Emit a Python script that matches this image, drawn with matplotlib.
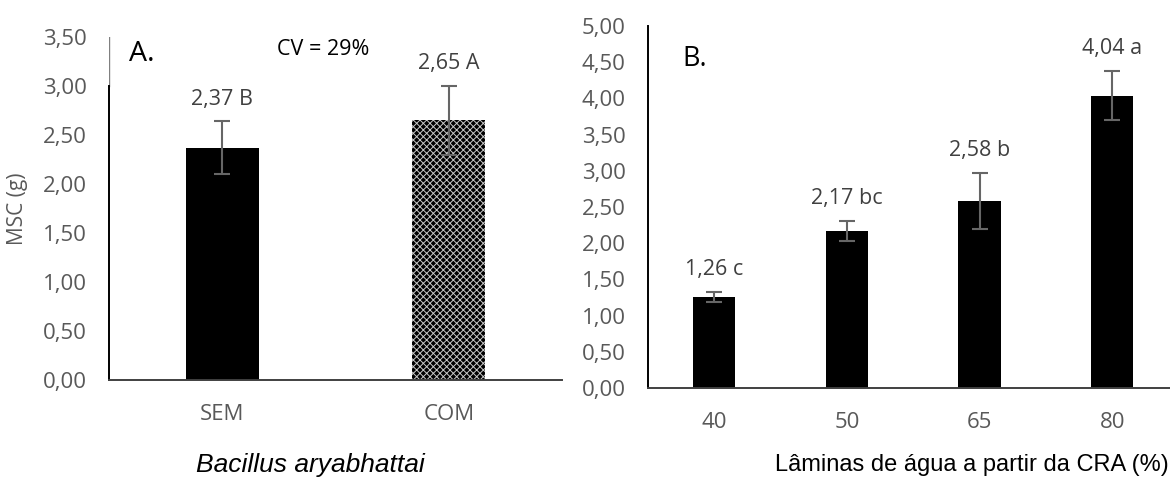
import matplotlib.pyplot as plt

# ==========================================================
# Data
# ==========================================================

inoc_labels = ["SEM", "COM"]
inoc_values = [2.37, 2.65]
inoc_errors = [0.27, 0.35]
inoc_letters = ["B", "A"]

lamina_labels = ["40", "50", "65", "80"]
lamina_values = [1.26, 2.17, 2.58, 4.04]
lamina_errors = [0.07, 0.14, 0.39, 0.34]
lamina_letters = ["c", "bc", "b", "a"]

# ==========================================================
# Style
# ==========================================================

plt.rcParams["font.family"] = ["Open Sans", "DejaVu Sans"]
plt.rcParams["hatch.linewidth"] = 0.7

TICK_GRAY = "#595959"
ERR_GRAY = "#666666"


def fmt(v):
    return f"{v:.2f}".replace(".", ",")


def style_axis(ax, ymax):
    ax.set_ylim(0, ymax)
    ticks = [i * 0.5 for i in range(int(ymax / 0.5) + 1)]
    ax.set_yticks(ticks)
    ax.set_yticklabels([fmt(t) for t in ticks])
    for side in ["top", "right"]:
        ax.spines[side].set_visible(False)
    ax.spines["bottom"].set_color("#404040")
    ax.spines["bottom"].set_linewidth(1.4)
    ax.spines["left"].set_color("black")
    ax.spines["left"].set_linewidth(1.4)
    ax.tick_params(axis="both", length=0, labelsize=16, labelcolor=TICK_GRAY)
    ax.tick_params(axis="y", pad=16)
    ax.tick_params(axis="x", pad=17)


def add_labels(ax, values, errors, letters):
    for i, (v, e, l) in enumerate(zip(values, errors, letters)):
        ax.annotate(f"{fmt(v)} {l}", (i, v + e), xytext=(0, 16),
                    textcoords="offset points", ha="center", va="center",
                    fontsize=15.5, color="#404040")


fig = plt.figure(figsize=(11.7, 4.91), dpi=100)

# ==========================================================
# Panel A
# ==========================================================

ax1 = fig.add_axes([0.0932, 0.2261, 0.3871, 0.6985])
x1 = list(range(len(inoc_labels)))

ax1.bar(x1[0], inoc_values[0], width=0.32, color="black")
ax1.bar(x1[1], inoc_values[1], width=0.32, color="black",
        edgecolor="#c8c8c8", hatch="xxxxx", linewidth=0)
ax1.errorbar(x1, inoc_values, yerr=inoc_errors, fmt="none",
             ecolor=ERR_GRAY, elinewidth=1.5, capsize=6, capthick=1.5)

ax1.set_xlim(-0.5, 1.5)
ax1.set_xticks(x1)
ax1.set_xticklabels(inoc_labels)
style_axis(ax1, 3.5)
ax1.spines["left"].set_bounds(0, 3.0)
ax1.axvline(-0.5, ymin=3.0 / 3.5, ymax=1, color="#808080", linewidth=1)

add_labels(ax1, inoc_values, inoc_errors, inoc_letters)

ax1.text(0.045, 0.95, "A.", transform=ax1.transAxes, fontsize=20.5,
         ha="left", va="center")
ax1.text(0.37, 0.965, "CV = 29%", transform=ax1.transAxes, fontsize=15.5,
         ha="left", va="center")

# ==========================================================
# Panel B
# ==========================================================

ax2 = fig.add_axes([0.5538, 0.2098, 0.4462, 0.7372])
x2 = list(range(len(lamina_labels)))

ax2.bar(x2, lamina_values, width=0.32, color="black")
ax2.errorbar(x2, lamina_values, yerr=lamina_errors, fmt="none",
             ecolor=ERR_GRAY, elinewidth=1.5, capsize=6, capthick=1.5)

ax2.set_xlim(-0.5, 3.436)
ax2.set_xticks(x2)
ax2.set_xticklabels(lamina_labels)
style_axis(ax2, 5.0)

add_labels(ax2, lamina_values, lamina_errors, lamina_letters)

ax2.text(0.066, 0.91, "B.", transform=ax2.transAxes, fontsize=19.5,
         ha="left", va="center")

# ==========================================================
# Axis titles
# ==========================================================

fig.text(18 / 1170, 1 - 209 / 491, "MSC (g)", rotation=90, ha="center",
         va="center", fontsize=15, color=TICK_GRAY)
fig.text(310 / 1170, 1 - 465 / 491, "Bacillus aryabhattai", ha="center",
         va="center", fontsize=19, style="italic", family="Liberation Sans")
fig.text(972 / 1170, 1 - 465 / 491, "Lâminas de água a partir da CRA (%)",
         ha="center", va="center", fontsize=17, family="Liberation Sans")

fig.savefig("out.png", dpi=100)
